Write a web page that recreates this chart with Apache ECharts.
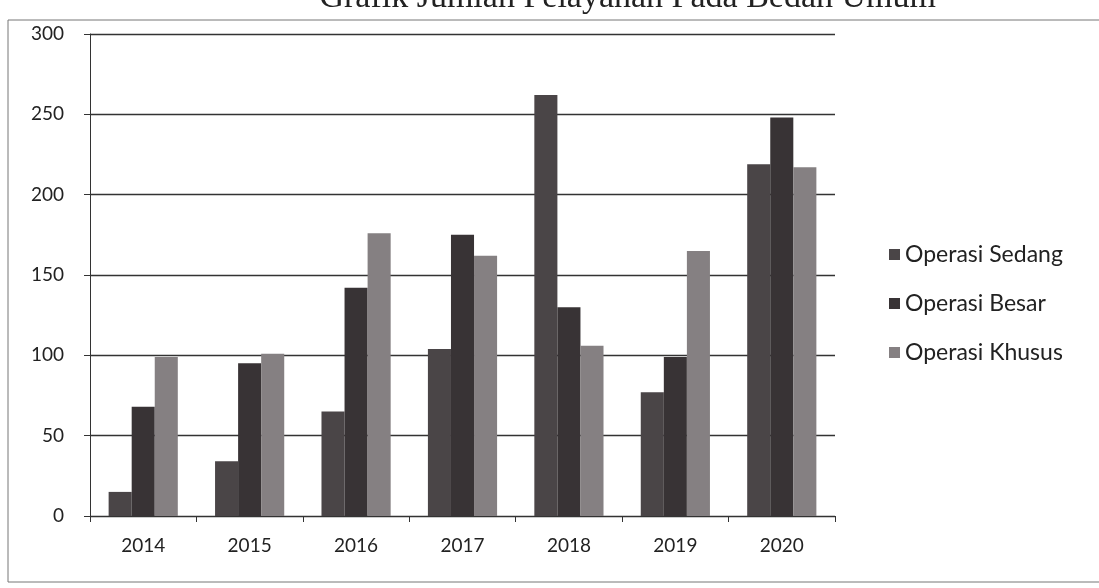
<!DOCTYPE html>
<html>
<head>
<meta charset="utf-8">
<script src="https://cdn.jsdelivr.net/npm/echarts@6/dist/echarts.min.js"></script>
<style>
html,body{margin:0;padding:0;background:#fff;}
#c{width:1099px;height:588px;}
</style>
</head>
<body>
<div id="c"></div>
<script>
const categories = ['2014','2015','2016','2017','2018','2019','2020'];
const seriesNames = ['Operasi Sedang','Operasi Besar','Operasi Khusus'];
const operasiSedang = [15, 34, 65, 104, 262, 77, 219];
const operasiBesar = [68, 95, 142, 175, 130, 99, 248];
const operasiKhusus = [99, 101, 176, 162, 106, 165, 217];
const yTicks = [0, 50, 100, 150, 200, 250, 300];
const titleText = 'Grafik Jumlah Pelayanan Pada Bedah Umum';

const colors = ['#4a4547', '#383335', '#858082'];
const chart = echarts.init(document.getElementById('c'), null, {renderer:'canvas'});
const font = 'Lato, "Open Sans", sans-serif';
chart.setOption({
  animation: false,
  backgroundColor: '#ffffff',
  title: {
    text: titleText,
    right: 158, top: -24,
    textStyle: {fontFamily: '"Liberation Serif", serif', fontSize: 34, fontWeight: 'normal', color: '#222'}
  },
  graphic: [{
    type: 'rect', shape: {x: 8, y: 20, width: 1200, height: 562},
    style: {fill: 'none', stroke: '#777', lineWidth: 1}, silent: true
  }],
  legend: {
    orient: 'vertical', left: 884, top: 238, itemGap: 26,
    itemWidth: 11, itemHeight: 11, icon: 'rect',
    textStyle: {fontFamily: font, fontSize: 23, color: '#222'},
    data: seriesNames
  },
  grid: {left: 90, right: 264, top: 34, bottom: 72, containLabel: false},
  xAxis: {
    type: 'category', data: categories,
    axisLine: {show: true, lineStyle: {color: '#333', width: 1}},
    axisTick: {show: true, length: 6, lineStyle: {color: '#333'}},
    axisLabel: {fontFamily: font, fontSize: 19, color: '#222', margin: 20}
  },
  yAxis: {
    type: 'value', min: yTicks[0], max: yTicks[yTicks.length-1], interval: 50,
    axisLine: {show: true, lineStyle: {color: '#333', width: 1}},
    axisTick: {show: true, inside: false, length: 6, lineStyle: {color: '#333'}},
    splitLine: {show: true, lineStyle: {color: '#333', width: 1.3}},
    axisLabel: {fontFamily: font, fontSize: 19, color: '#222', margin: 26}
  },
  series: [
    {name: seriesNames[0], type: 'bar', data: operasiSedang, barGap: '0%', barCategoryGap: '35%', itemStyle: {color: colors[0]}},
    {name: seriesNames[1], type: 'bar', data: operasiBesar, itemStyle: {color: colors[1]}},
    {name: seriesNames[2], type: 'bar', data: operasiKhusus, itemStyle: {color: colors[2]}}
  ]
});
</script>
</body>
</html>
